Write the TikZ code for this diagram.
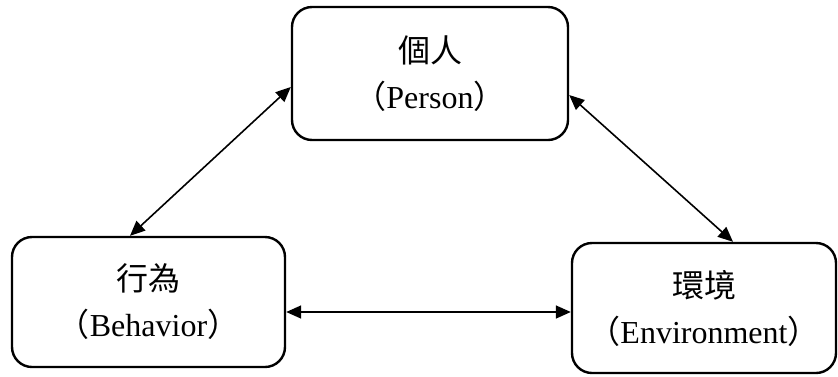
\documentclass[tikz,border=0pt]{standalone}
\usepackage{fontspec}
\setmainfont{Liberation Serif}
\newfontfamily\cjk{Noto Sans CJK TC}
\usetikzlibrary{arrows.meta}
\tikzset{
  box/.style={draw=black, line width=2.4pt, rounded corners=20pt, rectangle,
    align=center, inner sep=0pt,
    font=\fontsize{32}{46}\selectfont},
  arr/.style={line width=1.6pt, {Triangle[length=15pt,width=13pt]}-{Triangle[length=15pt,width=13pt]}}
}
\begin{document}
\begin{tikzpicture}[x=1pt,y=-1pt]
  \useasboundingbox (0,0) rectangle (838,376);
  % the three factors
  \node[box, minimum width=276pt, minimum height=133pt] (P) at (430,73.5)
    {{\cjk 個人}\\{\cjk （}Person{\cjk ）}};
  \node[box, minimum width=273pt, minimum height=130pt] (B) at (148.5,302)
    {{\cjk 行為}\\{\cjk （}Behavior{\cjk ）}};
  \node[box, minimum width=264pt, minimum height=130pt] (E) at (704,308)
    {{\cjk 環境}\\{\cjk （}Environment{\cjk ）}};
  % reciprocal influences
  \coordinate (pb1) at ([yshift=-13.5pt]P.west);
  \coordinate (pb2) at ([xshift=-18.5pt]B.north);
  \coordinate (pe1) at ([yshift=-21.5pt]P.east);
  \coordinate (pe2) at ([xshift=29pt]E.north);
  \coordinate (be1) at ([yshift=-10pt]B.east);
  \coordinate (be2) at (be1 -| E.west);
  \draw[arr] (pb1) -- (pb2);
  \draw[arr] (pe1) -- (pe2);
  \draw[arr] (be1) -- (be2);
\end{tikzpicture}
\end{document}
